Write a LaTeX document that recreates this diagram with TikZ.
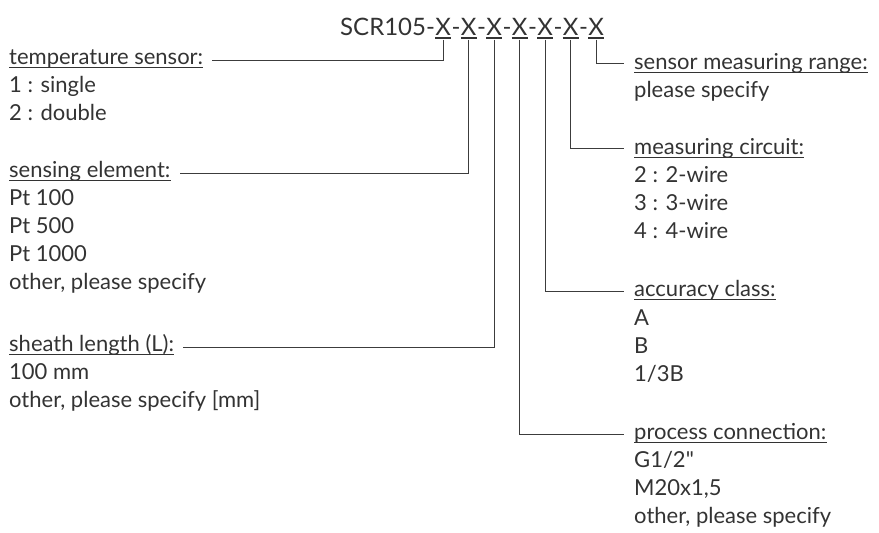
\documentclass[tikz,border=0pt]{standalone}
\usepackage{fontspec}
\setmainfont{Lato}[Ligatures=TeXOff]
\usetikzlibrary{calc}
\definecolor{txt}{HTML}{333333}
\definecolor{linec}{HTML}{3C3C3C}
\begin{document}
\begin{tikzpicture}[x=1pt,y=-1pt,
  every node/.style={inner sep=0pt,text=txt,font=\fontsize{22}{26}\selectfont},
  hd/.style={anchor=base west},
  it/.style={anchor=base west},
  tl/.style={anchor=base west,font=\fontsize{24}{28}\selectfont},
  conn/.style={draw=linec,line width=0.9pt},
  ul/.style={draw=txt,line width=1.7pt}]
\useasboundingbox (0,0) rectangle (879,533);
% title
\node[tl] (scr) at (340,35) {SCR105-};
\node[tl] (x1) at ([xshift=0.1pt]scr.base east) {X};
\node[tl] (d1) at ([xshift=0.1pt]x1.base east) {-};
\node[tl] (x2) at ([xshift=0.1pt]d1.base east) {X};
\node[tl] (d2) at ([xshift=0.1pt]x2.base east) {-};
\node[tl] (x3) at ([xshift=0.1pt]d2.base east) {X};
\node[tl] (d3) at ([xshift=0.1pt]x3.base east) {-};
\node[tl] (x4) at ([xshift=0.1pt]d3.base east) {X};
\node[tl] (d4) at ([xshift=0.1pt]x4.base east) {-};
\node[tl] (x5) at ([xshift=0.1pt]d4.base east) {X};
\node[tl] (d5) at ([xshift=0.1pt]x5.base east) {-};
\node[tl] (x6) at ([xshift=0.1pt]d5.base east) {X};
\node[tl] (d6) at ([xshift=0.1pt]x6.base east) {-};
\node[tl] (x7) at ([xshift=0.1pt]d6.base east) {X};
\foreach \i in {1,...,7}{
  \draw[ul] ([yshift=-3pt]x\i.base west) -- ([yshift=-3pt]x\i.base east);
}
% left headers and items
\node[hd] (temp) at (9,64) {temperature sensor:};
\node[it] (t1) at (9,92) {1 : single};
\node[it] (t2) at (9,120) {2 : double};
\node[hd] (sens) at (9,177) {sensing element:};
\node[it] (s1) at (9,205) {Pt 100};
\node[it] (s2) at (9,233) {Pt 500};
\node[it] (s3) at (9,261) {Pt 1000};
\node[it] (s4) at (9,289) {other, please specify};
\node[hd] (sheath) at (9,351) {sheath length (L):};
\node[it] (l1) at (9,379) {100 mm};
\node[it] (l2) at (9,407) {other, please specify [mm]};
% right headers and items
\node[hd] (rng) at (634,69) {sensor measuring range:};
\node[it] (r1) at (634,97) {please specify};
\node[hd] (circ) at (634,154) {measuring circuit:};
\node[it] (c1) at (634,182) {2 : 2-wire};
\node[it] (c2) at (634,210) {3 : 3-wire};
\node[it] (c3) at (634,238) {4 : 4-wire};
\node[hd] (acc) at (634,296) {accuracy class:};
\node[it] (a1) at (634,325) {A};
\node[it] (a2) at (634,353) {B};
\node[it] (a3) at (634,381) {1/3B};
\node[hd] (proc) at (634,439) {process connection:};
\node[it] (p1) at (634,467) {G1/2"};
\node[it] (p2) at (634,495) {M20x1,5};
\node[it] (p3) at (634,523) {other, please specify};
% underlines of headers
\foreach \n in {temp,sens,sheath,rng,circ,acc,proc}{
  \draw[ul] ([yshift=-3.5pt]\n.base west) -- ([yshift=-3.5pt]\n.base east);
}
% connector ends
\coordinate (etemp) at ($(temp.base east)+(9pt,4pt)$);
\coordinate (esens) at ($(sens.base east)+(9pt,4pt)$);
\coordinate (esheath) at ($(sheath.base east)+(9pt,4pt)$);
\coordinate (erng) at ($(rng.base west)+(-10pt,6pt)$);
\coordinate (ecirc) at ($(circ.base west)+(-10pt,6pt)$);
\coordinate (eacc) at ($(acc.base west)+(-10pt,5pt)$);
\coordinate (eproc) at ($(proc.base west)+(-10pt,5pt)$);
% connectors
\draw[conn] ([yshift=-4.5pt]x1.base) |- (etemp);
\draw[conn] ([yshift=-4.5pt]x2.base) |- (esens);
\draw[conn] ([yshift=-4.5pt]x3.base) |- (esheath);
\draw[conn] ([yshift=-4.5pt]x4.base) |- (eproc);
\draw[conn] ([yshift=-4.5pt]x5.base) |- (eacc);
\draw[conn] ([yshift=-4.5pt]x6.base) |- (ecirc);
\draw[conn] ([yshift=-4.5pt]x7.base) |- (erng);
\end{tikzpicture}
\end{document}
